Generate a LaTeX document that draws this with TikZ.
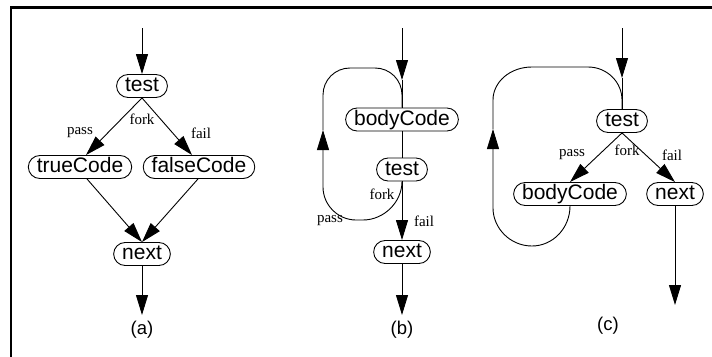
\documentclass[tikz,border=0pt]{standalone}
\usepackage{fontspec}
\setmainfont{Liberation Serif}
\setsansfont{Liberation Sans}
\usetikzlibrary{arrows.meta}

\begin{document}
\begin{tikzpicture}[
  x=1pt, y=-1pt,
  line width=0.9pt,
  block/.style={draw, rectangle, rounded corners=11.5pt, minimum height=23pt,
    inner xsep=8.5pt, inner ysep=0pt, text height=15pt, text depth=4pt,
    font=\sffamily\fontsize{21}{25}\selectfont},
  edgelabel/.style={font=\rmfamily\fontsize{15}{17}\selectfont, inner sep=0pt},
  caption/.style={font=\sffamily\fontsize{18.5}{22}\selectfont, inner sep=0pt},
  arr/.style={-{Triangle[length=20pt,width=12pt]}},
  frame/.style={line width=2.5pt}
]
\useasboundingbox (0,0) rectangle (712,356);

% frame lines (left and top)
\coordinate (fbl) at (11,358);
\coordinate (ftl) at (11,7.3);
\coordinate (ftr) at (714,7.3);
\draw[frame] (fbl) -- (ftl) -- (ftr);

% ---------- (a) if-then-else ----------
\node[block] (ta) at (142,86) {test};
\node[block] (tca) at (80,167) {trueCode};
\node[block] (fca) at (199,167) {falseCode};
\node[block] (na) at (142,254) {next};
\coordinate (ina) at (142,28);
\coordinate (outa) at (142,315);
\draw[arr] (ina) -- (ta.north);
\draw[arr] (ta.south) -- ([xshift=6pt]tca.north);
\draw[arr] (ta.south) -- ([xshift=-7pt]fca.north);
\draw[arr] ([xshift=7pt]tca.south) -- (na.north);
\draw[arr] ([xshift=-1pt]fca.south) -- (na.north);
\draw[arr] (na.south) -- (outa);
\node[edgelabel] (pa) at (80,133) {pass};
\node[edgelabel] (ka) at (142,119) {fork};
\node[edgelabel] (la) at (201,133) {fail};
\node[caption] (cap-a) at (142,330) {(a)};

% ---------- (b) do-while loop ----------
\node[block] (bb) at (402,119.5) {bodyCode};
\node[block] (tb) at (402,169.5) {test};
\node[block] (nb) at (402,252) {next};
\coordinate (inb) at (402,28);
\coordinate (midb) at (402,80);
\coordinate (outb) at (402,315);
\coordinate (upb) at (323,130);
\draw[arr] (inb) -- (midb);
\draw (midb) -- (bb.north);
\draw (bb.south) -- (tb.north);
\draw[arr] (tb.south) -- (nb.north);
\draw[arr] (nb.south) -- (outb);
% back edge: round the left side and into the body again
\draw[arr] (tb.south) .. controls (402,202) and (384,220) .. (363,220)
  -- (356,220) .. controls (338,220) and (323,205) .. (323,187) -- (upb);
\draw (upb) -- (323,95) .. controls (323,80) and (335,68) .. (350,68)
  -- (375,68) .. controls (390,68) and (402,80) .. (402,95) -- (bb.north);
\node[edgelabel] (kb) at (382,194) {fork};
\node[edgelabel] (pb) at (330,221) {pass};
\node[edgelabel] (lb) at (424,221) {fail};
\node[caption] (cap-b) at (402,330) {(b)};

% ---------- (c) while loop ----------
\node[block] (tc) at (622,121) {test};
\node[block] (bc) at (570,194) {bodyCode};
\node[block] (nc) at (675,194) {next};
\coordinate (inc) at (622,28);
\coordinate (midc) at (622,78);
\coordinate (outc) at (675,305);
\coordinate (upc) at (493,129);
\draw[arr] (inc) -- (midc);
\draw (midc) -- (tc.north);
\draw[arr] (tc.south) -- (bc.north);
\draw[arr] (tc.south) -- (nc.north);
\draw[arr] (nc.south) -- (outc);
% back edge: from the body round the left side into the test
\draw[arr] (bc.south) .. controls (570,228) and (553,246) .. (532,246)
  .. controls (510,246) and (493,228) .. (493,208) -- (upc);
\draw (upc) -- (493,100) .. controls (493,82) and (510,67) .. (532,67)
  -- (588,67) .. controls (607,67) and (622,82) .. (622,100) -- (tc.north);
\node[edgelabel] (pc) at (572,155) {pass};
\node[edgelabel] (kc) at (627,150) {fork};
\node[edgelabel] (lc) at (672,155) {fail};
\node[caption] (cap-c) at (608,326) {(c)};
\end{tikzpicture}
\end{document}
